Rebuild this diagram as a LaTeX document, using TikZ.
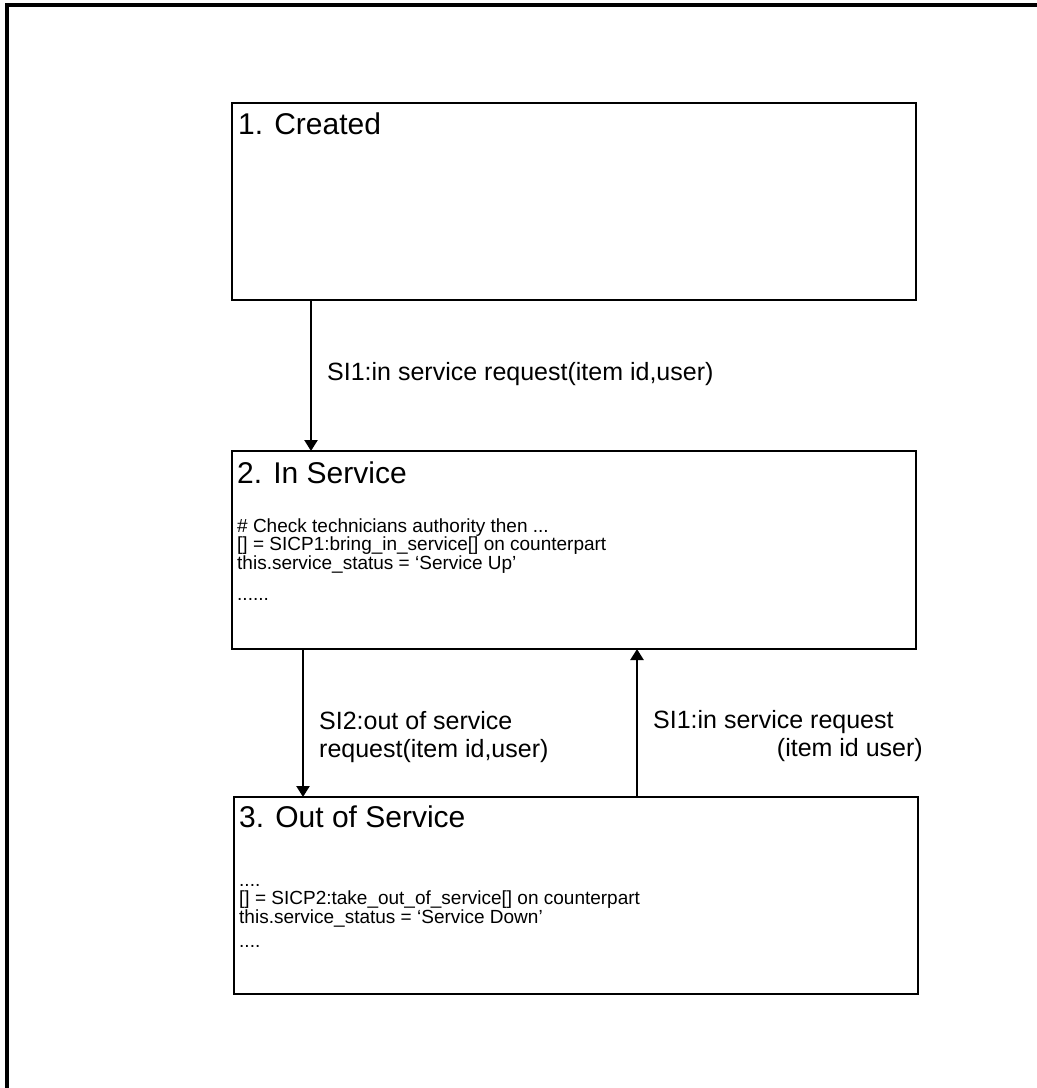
\documentclass[tikz,border=0pt]{standalone}
\usepackage{fontspec}
\setmainfont{Liberation Sans}
\usetikzlibrary{arrows.meta}
\begin{document}
\begin{tikzpicture}[x=1pt,y=-1pt,
  state/.style={draw, line width=2.8pt, minimum width=684pt, minimum height=197pt,
    anchor=north west, inner sep=0pt, outer sep=0pt},
  title/.style={anchor=base west, inner sep=0pt, font=\fontsize{30}{34}\selectfont},
  body/.style={anchor=base west, inner sep=0pt, align=left,
    font=\fontsize{19}{18.3}\selectfont},
  lbl/.style={inner sep=0pt, font=\fontsize{25}{28}\selectfont},
  trans/.style={line width=2.4pt, -{Triangle[width=13pt,length=11pt]}},
]
\useasboundingbox (0,0) rectangle (1037,1088);
% outer frame, running off the page on the right and at the bottom
\begin{scope}
  \clip (0,0) rectangle (1037,1088);
  \draw[line width=3.4pt] (7,5) rectangle (1100,1150);
\end{scope}

% states
\node[state] (s1) at (232,103) {};
\node[state, minimum height=198pt] (s2) at (232,451) {};
\node[state] (s3) at (234,797) {};

\node[title] (t1) at (238,134) {1. Created};
\node[title] (t2) at (237,483) {2. In Service};
\node[title] (t3) at (239,827) {3. Out of Service};

% body texts: the base anchor sits on the last line
\node[body] (d2) at (237,600) {\# Check technicians authority then ...\\
  {[]} = SICP1:bring\_in\_service{[]} on counterpart\\
  this.service\_status = ‘Service Up’\\[12.7pt]
  ......};
\node[body] (d3) at (239,947) {....\\
  {[]} = SICP2:take\_out\_of\_service{[]} on counterpart\\
  this.service\_status = ‘Service Down’\\[5.7pt]
  ....};

% transitions
\draw[trans] ([xshift=79pt]s1.south west) -- ([xshift=79pt]s1.south west |- s2.north);
\draw[trans] ([xshift=71pt]s2.south west) -- ([xshift=71pt]s2.south west |- s3.north);
\draw[trans] ([xshift=403pt]s3.north west) -- ([xshift=403pt]s3.north west |- s2.south);

\node[lbl, anchor=base west] (e1) at (327,380) {SI1:in service request(item id,user)};
\node[lbl, anchor=base west] (e2a) at (319,729) {SI2:out of service};
\node[lbl, anchor=base west] (e2b) at (319,757) {request(item id,user)};
\node[lbl, anchor=base west] (e3a) at (653,728) {SI1:in service request};
\node[lbl, anchor=base east] (e3b) at (923,756) {(item id user)};
\end{tikzpicture}
\end{document}
